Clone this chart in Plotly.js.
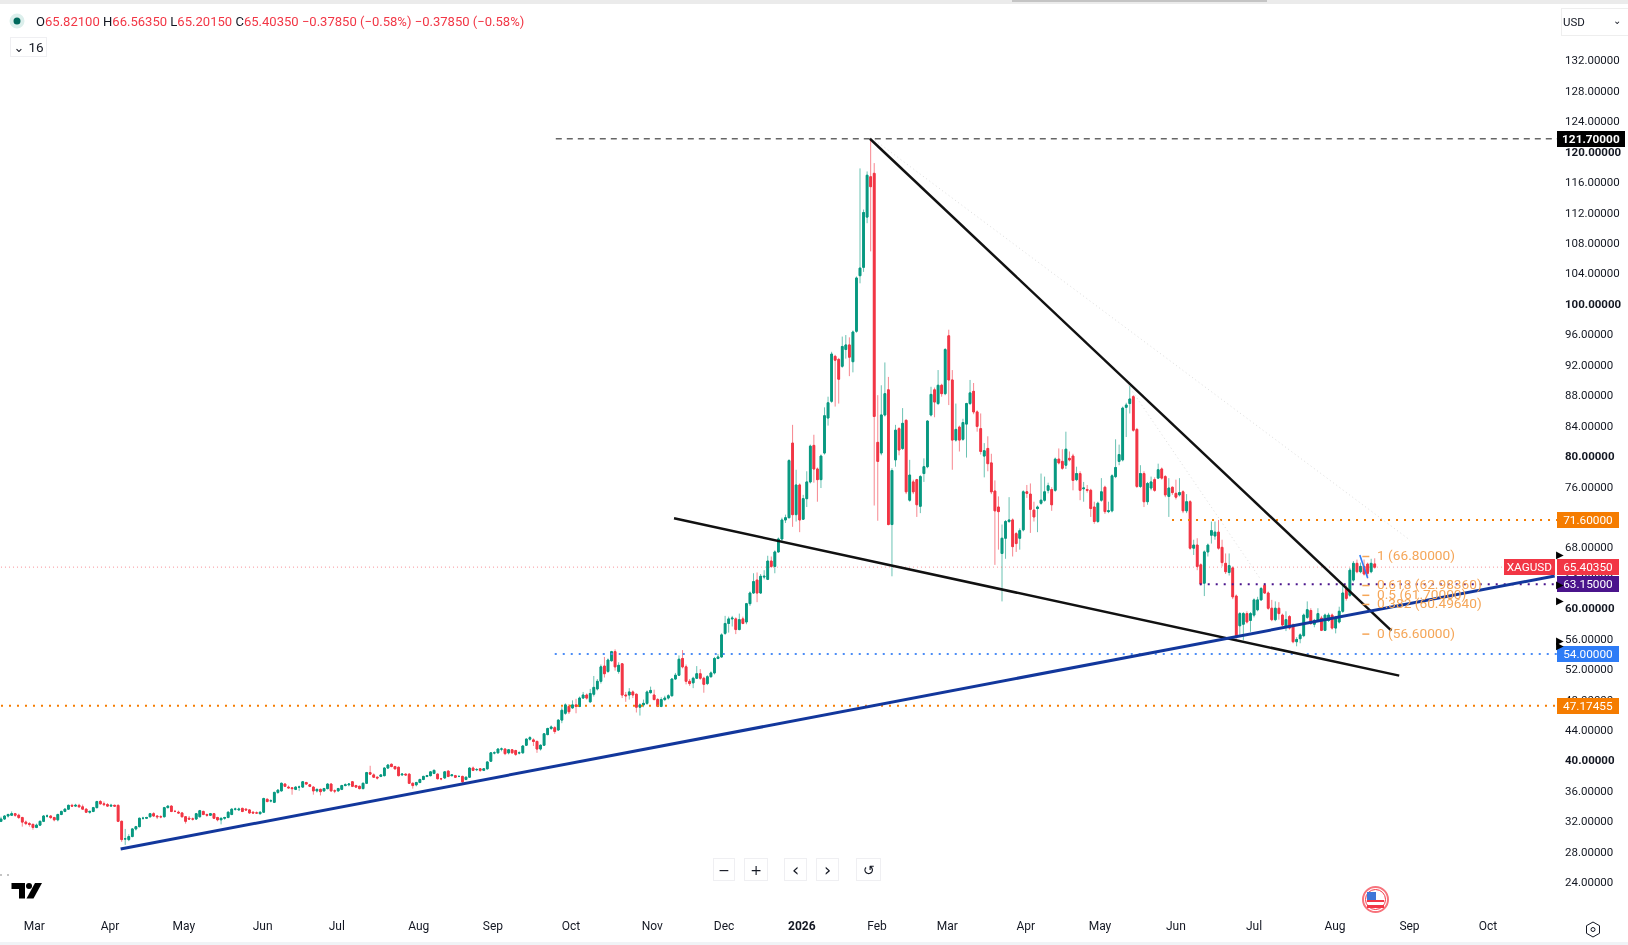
<!DOCTYPE html>
<html>
<head>
<meta charset="utf-8">
<script src="https://cdn.plot.ly/plotly-3.0.1.min.js"></script>
<style>html,body{margin:0;padding:0;background:#fff;overflow:hidden}#chart{width:1628px;height:945px;filter:blur(0.4px)}</style>
</head>
<body>
<div id="chart"></div>
<script>
// daily candles [open, high, low, close]
const barsA = [
[32.0,32.6,31.9,32.3],[32.3,32.8,32.2,32.7],[32.7,33.0,32.5,32.9],[32.8,33.3,32.7,33.0],[33.0,33.1,32.6,32.8],[32.8,33.0,32.3,32.5],[32.5,32.6,31.3,31.9],[31.9,32.1,31.5,31.7],[31.7,31.9,31.3,31.6],[31.6,31.7,30.9,31.2],
[31.2,31.7,31.1,31.5],[31.5,32.1,31.4,32.0],[32.0,32.8,31.9,32.7],[32.7,32.9,32.5,32.7],[32.7,32.8,32.3,32.5],[32.5,32.6,32.0,32.2],[32.2,33.0,32.0,32.9],[32.9,33.4,32.8,33.3],[33.3,33.7,33.2,33.6],[33.6,34.2,33.5,34.1],
[34.1,34.3,33.9,34.0],[34.0,34.3,33.9,34.1],[34.1,34.3,33.8,33.9],[33.9,34.2,33.6,33.6],[33.6,33.7,33.1,33.2],[33.2,33.4,33.0,33.3],[33.3,33.9,33.2,33.8],[33.8,34.7,33.7,34.6],[34.6,34.8,34.2,34.3],[34.3,34.6,34.0,34.2],
[34.2,34.4,33.9,34.0],[34.0,34.3,33.9,34.1],[34.1,34.2,33.9,34.0],[34.1,34.2,31.9,32.0],[32.0,32.1,29.3,29.6],[29.7,31.0,28.9,29.7],[29.6,30.3,29.4,30.0],[30.0,31.1,29.9,31.0],[31.0,31.4,30.8,31.3],[31.3,32.5,31.2,32.4],
[32.4,32.6,32.2,32.4],[32.4,32.6,32.3,32.5],[32.6,33.1,32.5,33.0],[33.0,33.2,32.6,32.7],[32.7,32.8,32.3,32.6],[32.6,32.8,32.4,32.6],[32.6,33.9,32.5,33.8],[33.8,34.1,33.7,34.0],[34.0,34.1,33.2,33.3],[33.3,33.5,33.2,33.3],
[33.2,33.4,33.0,33.1],[33.1,33.2,32.5,32.6],[32.6,32.7,31.7,32.0],[32.4,32.7,32.2,32.3],[32.3,32.5,32.1,32.3],[32.3,33.1,32.2,33.0],[32.6,33.5,32.5,33.4],[33.3,33.4,32.8,32.9],[32.9,33.0,32.6,32.8],[32.8,33.1,32.7,33.0],
[33.0,33.1,32.3,32.4],[32.5,32.6,32.0,32.2],[32.2,32.5,31.6,32.4],[32.4,32.6,32.2,32.5],[32.5,33.3,32.4,33.2],[32.9,33.7,32.8,33.6],[33.6,33.8,33.4,33.6],[33.5,33.8,33.4,33.6],[33.7,33.8,33.2,33.3],[33.6,33.7,33.4,33.5],
[33.5,33.6,33.0,33.1],[33.2,33.3,33.0,33.1],[33.1,33.3,33.0,33.1],[33.0,33.3,32.9,33.2],[33.2,35.1,33.1,35.0],[34.9,35.0,34.5,34.6],[34.7,34.9,34.5,34.7],[34.5,35.9,34.4,35.8],[35.8,36.2,35.6,36.1],[36.0,37.1,35.9,37.0],
[36.9,37.0,36.5,36.6],[36.5,36.7,36.3,36.4],[36.4,36.5,35.5,36.3],[36.2,36.6,36.1,36.5],[36.5,36.7,36.0,36.5],[36.5,37.3,36.4,37.2],[37.1,37.2,36.8,36.9],[36.8,36.9,36.5,36.6],[36.5,36.6,35.5,36.0],[36.0,36.3,35.8,36.2],
[36.2,36.3,35.4,35.9],[36.0,36.4,35.9,36.3],[36.3,37.0,36.2,36.9],[36.9,37.0,35.9,36.0],[36.0,36.2,35.7,36.0],[36.0,36.4,35.9,36.3],[36.2,36.8,36.1,36.7],[36.7,37.0,36.6,36.8],[36.8,37.0,36.6,36.9],[37.2,37.3,36.5,36.6],
[36.7,36.8,36.4,36.5],[36.6,36.7,36.2,36.3],[36.3,37.1,36.2,37.0],[37.0,38.5,36.9,38.4],[38.4,39.3,38.1,38.2],[38.1,38.3,37.7,37.8],[37.8,37.9,37.5,37.7],[37.9,38.2,37.8,38.1],[38.0,39.1,37.9,39.0],[39.0,39.5,38.9,39.4],
[39.5,39.6,39.1,39.2],[39.2,39.3,38.8,38.9],[39.1,39.2,37.9,38.0],[38.1,38.3,38.0,38.2],[38.2,38.3,38.0,38.1],[38.2,38.3,36.9,37.0],[37.0,37.1,36.3,36.7],[36.8,37.2,36.6,37.1],[37.1,37.6,37.0,37.5],[37.5,38.0,37.4,37.9],
[37.9,38.1,37.8,38.0],[38.0,38.6,37.9,38.5],[38.3,38.8,38.2,38.7],[38.2,38.3,37.5,37.6],[37.6,37.7,37.4,37.6],[37.7,38.6,37.6,38.5],[38.6,38.7,37.8,37.9],[38.0,38.2,37.9,38.1],[38.0,38.1,37.7,37.8],[37.9,38.0,37.8,37.9],
[37.9,38.0,36.9,37.2],[37.5,37.9,37.4,37.8],[37.8,39.1,37.7,39.0],[39.0,39.2,38.6,38.7],[38.8,39.0,38.6,38.8],[38.9,39.0,38.5,38.7],[38.7,39.0,38.6,38.9],[38.9,39.9,38.8,39.8],[39.9,41.1,39.8,41.0],[41.0,41.2,40.8,41.0],
[41.0,41.6,40.9,41.5],[41.5,41.7,41.2,41.5],[41.5,41.6,40.7,40.9],[41.0,41.5,40.8,41.4],[41.4,41.5,40.9,41.0],[41.3,41.4,40.6,40.8],[41.0,41.2,40.8,41.0],[41.0,42.0,40.9,41.9],[42.0,42.9,41.9,42.8],[42.8,43.2,42.6,43.0],
[42.7,42.9,41.9,42.5],[42.5,42.6,41.0,41.5],[41.5,42.1,41.3,42.0],[42.0,43.6,41.9,43.5],[43.4,44.3,43.3,44.2],[44.2,44.6,44.0,44.4],[44.3,44.5,43.5,43.8],[44.0,45.4,43.9,45.3]
];
const barsB = [
[45.3,47.0,44.9,46.6],[46.2,47.5,46.0,47.3],[47.1,47.4,46.1,46.4],[46.9,47.9,46.8,47.3],[47.3,48.1,46.2,47.1],[47.1,48.4,47.0,48.2],[48.2,49.0,48.1,48.6],[48.6,48.8,48.0,48.2],[47.7,49.4,47.6,48.8],[48.7,51.1,48.4,49.6],
[49.4,50.7,49.2,50.4],[50.4,52.6,50.1,52.3],[52.4,53.6,50.9,51.4],[51.7,53.4,51.5,53.2],[53.1,54.4,53.0,54.3],[54.3,54.6,51.8,52.3],[51.7,52.9,51.4,52.5],[52.7,52.8,48.2,48.6],[48.6,49.0,47.7,48.5],[48.6,49.5,48.0,49.0],
[49.0,49.2,48.2,48.6],[48.7,48.8,46.3,47.0],[47.0,47.5,45.9,47.3],[47.3,48.0,47.0,47.5],[47.5,49.2,47.3,49.0],[48.9,49.7,48.8,49.2],[48.6,49.3,47.9,48.0],[48.0,48.2,47.0,47.1],[47.1,48.3,47.0,48.0],[48.0,48.5,47.8,48.2],
[48.2,48.7,48.0,48.5],[48.5,50.8,48.4,50.7],[50.7,51.5,50.6,51.2],[51.2,53.8,51.1,53.3],[53.4,54.5,52.1,52.3],[52.3,52.6,50.0,50.4],[50.4,50.7,49.8,50.1],[50.2,51.0,49.5,50.8],[50.8,52.4,50.7,51.4],[51.4,52.0,50.6,50.8],
[50.8,51.0,48.9,50.0],[50.1,51.2,49.9,51.0],[51.0,51.7,50.9,51.5],[51.5,53.6,51.3,53.4],[53.4,54.0,53.3,53.6],[53.6,56.7,53.5,56.5],[56.7,59.0,56.5,58.0],[58.0,58.9,56.8,58.6],[58.6,59.0,57.6,58.7],[58.6,58.8,56.6,57.2],
[57.2,59.3,57.1,58.5],[58.6,58.9,57.9,58.0],[58.2,60.7,57.9,60.6],[60.6,62.2,60.3,62.0],[62.0,64.6,61.9,63.5],[63.7,64.7,60.8,62.0],[62.0,64.5,61.9,64.2],[64.1,65.0,63.8,64.2],[63.8,66.9,63.7,66.2],[66.2,66.8,65.3,65.5],
[65.5,67.6,64.6,67.4],[67.4,69.3,67.3,69.1],[69.1,71.9,68.8,71.6],[71.6,72.3,71.2,71.9],[71.9,79.6,71.8,79.4],[81.7,84.1,70.7,72.3],[72.3,78.2,71.4,76.2],[76.2,76.4,70.0,71.6],[71.7,74.9,71.6,74.4],[74.4,78.0,73.3,76.6],
[76.6,81.5,76.4,81.3],[81.4,82.8,76.5,78.3],[78.3,78.5,74.0,76.9],[76.9,80.2,75.8,80.0],[80.4,86.4,80.2,85.3]
];
const barsPeak = [
[85.0,87.8,84.0,87.0],[87.2,93.7,87.0,93.4],[93.1,93.3,86.5,92.6],[92.7,92.9,86.9,90.1],[91.8,95.7,91.6,94.4],[94.0,95.9,92.8,94.6],[94.6,95.6,90.5,93.0],[92.4,96.5,91.0,96.3],[96.4,103.6,96.2,103.4],[103.7,117.8,102.7,104.7],
[104.8,112.4,104.2,112.0],[111.4,117.4,110.6,116.9],[116.7,121.7,106.9,115.4],[117.15,118.5,73.5,85.2]
];
const barsC = [
[81.8,88,71.5,79.3],[80.4,89.3,80.1,85.4],[85.4,92.3,85.2,88.2],[88.7,90.4,70.9,71],[71,78.4,64.2,78.1],[79.5,84.1,78.6,83.4],[83.6,83.8,80.1,80.8],[81,86.3,80.8,84.3],[84.7,84.8,75,75.3],[74.2,79.5,74,77.5],
[76.6,76.9,75,75.3],[76.9,77,72,73.6],[73.4,77.5,72.5,77.3],[77.7,79.7,76.6,78.6],[78.6,84.7,78.4,84.6],[85.4,89.1,85.2,88.1],[88.7,89,85.1,87.1],[86.9,91.3,86.7,89.3],[89.3,89.5,87.8,88.2],[88.2,94.2,88,94],
[95.8,96.6,86.7,90],[90,91.3,78.2,82.1],[82.1,86.9,81.9,83.5],[83.8,84,80.6,82.1],[82.2,84.9,82,84.4],[84.2,87,79.8,86.9],[86.9,90,86.7,88.3],[88.5,89.6,85.5,85.8],[85.8,86,83.2,83.9],[83.6,85.6,80.2,80.6],
[80,81.7,77.2,80.7],[81,82.6,78,79],[79.1,80.3,75,75.3],[75.4,76.8,65.7,72.8],[73.3,74.7,67.7,72.7],[67.2,71,60.9,69.2],[69.2,71.6,66.5,71.4],[71.4,74.6,71.2,71.6],[71.6,71.8,66.8,68.1],[69.8,70,67.4,68.5],
[69.2,70.5,67.7,70.2],[70.3,75.5,70.1,75.3],[75.3,76.2,74.5,75.1],[75,76.4,69.9,73],[72.9,74,71.4,72],[73.1,73.5,70,73.3],[73.8,77.7,73.6,74.2],[74.2,77.3,74,75.3],[75.5,76.5,75.1,76.1],[75.6,75.9,72.8,73.6],
[75.5,79.8,75.3,79.6],[79.6,81,78.9,79.1],[79.3,80.9,78.2,78.4],[78.8,83.2,78.3,80.9],[79.7,80.6,79.3,79.5],[80,80.3,75.5,76.8],[76.9,78.6,76.7,77.7],[77.7,78,74.2,75.5],[75.7,76.6,74,75.8],[75.6,76.2,75.2,75.5],
[75.5,75.7,72,73.1],[73.3,74,71.1,71.4],[71.4,74,71.2,73.8],[74.2,77.1,74,75.3],[75.9,76.1,72.4,72.7],[72.7,74,72.5,72.8],[72.8,77.6,72.6,77.4],[77.3,82.2,77.1,78.5],[79.3,81.5,78.8,80.2],[79.5,86.5,79.3,86.3],
[86.4,87,82.5,86.7],[86.9,89.2,85.6,87.5],[87.8,88,83.2,83.4],[83.5,83.7,75.8,76]
];
const barsD = [
[76,78.8,75.8,77.7],[77.7,78,73.3,74],[74,76.6,73.6,76.4],[75.8,77.3,75.5,76.6],[76.9,77.2,75.3,75.5],[77.1,79,77,78.2],[78.3,78.5,76.9,77.1],[77.3,77.5,74.6,74.9],[74.7,77.1,72,75.8],[75.9,76,74.9,75.2],
[75.1,76.9,74.3,74.6],[74.9,77.1,74.7,75.2],[75.3,75.5,72.5,72.8],[72.8,75,72.5,74],[74,74.2,67.7,67.9],[67.9,69,67,68.3],[68.3,69.2,65,65.5],[65.7,65.9,63,63.2],[63.3,67.6,61.6,67.4],[67.4,68.5,66.8,68.3],
[69.6,71.4,68.5,70.2],[69.5,71.4,69,70],[70,71.6,67.7,67.9],[68,69,65.5,66],[65.9,67.2,64.5,64.8],[64.7,67.2,64.3,65.6],[65.3,65.5,61.2,61.5],[61.6,61.8,56,56.3],[57.7,59.5,56.5,59.3],[57.9,59.5,55.8,59.3],
[59.3,59.6,58,58.2],[58.4,59.5,56.9,59.3],[59.1,61.3,58.8,61.1],[59.8,61.5,59.6,61.1],[61.1,62.8,61,62.6],[63,63.3,61.9,62],[62,62.2,59.8,60],[60,61.1,58.3,58.5],[58.5,60.9,58.3,60],[60,60.8,58.5,59.3],
[59.1,59.3,57.6,57.8],[57.6,59.6,57,58.5],[58.9,59.1,57.2,57.4],[57.8,58,55.4,55.6],[55.6,56.2,55,55.9],[56,56.7,55.4,56.5],[56.4,59.3,56.2,59.1],[58.8,60.9,58.6,59.8],[59.7,60,57.8,58],[57.9,58.6,57.5,58.4],
[58.4,60,58.2,59.3],[58.7,59,57,57.1],[57.1,59.3,57,59.1],[58.4,59.4,58.2,59.1],[59.1,59.3,57.2,57.4],[57.4,59,56.7,58.7],[58.2,60.2,58,59.6],[59.6,63,59.4,62],[62.6,63,61,61.3],[61.7,65.3,61.5,65],
[63.7,66.2,63.5,65.9],[65.9,66.4,64.6,64.8],[64.8,66,64.6,65.5],[65.5,66.4,64.3,64.5],[65.8,66,63.9,64.6],[64.8,66.5,64.6,65.9],[65.821,66.5635,65.2015,65.4035]
];
const bars = [].concat(barsA, barsB, barsPeak, barsC, barsD);
const barIndex = bars.map((b, i) => i);
const opens = bars.map(b => b[0]);
const highs = bars.map(b => b[1]);
const lows = bars.map(b => b[2]);
const closes = bars.map(b => b[3]);

const priceTicks = [24,28,32,36,40,44,48,52,56,60,64,68,72,76,80,84,88,92,96,100,104,108,112,116,120,124,128,132];
const monthTickBars = [9.4,30.7,51.5,73.7,94.6,117.7,138.6,160.6,183.5,203.7,225.6,246.8,266.6,288.7,309.6,331,353,375.8,396.8,418.9];
const monthLabels = ['Mar','Apr','May','Jun','Jul','Aug','Sep','Oct','Nov','Dec','<b>2026</b>','Feb','Mar','Apr','May','Jun','Jul','Aug','Sep','Oct'];

// drawn trendlines: [bar, price]
const wedgeUpper = [[244.8,121.7],[391.7,57.05]];
const wedgeLower = [[189.6,71.82],[393.9,51.15]];
const supportLine = [[33.7,28.37],[437.7,64.24]];
const faintA = [[246.2,121.5],[396.9,68.97]];
const faintB = [[317.5,89.34],[354.6,63.98]];
const smallBlue = [[382.8,67],[385,63.98]];
const levels = [
  {v:121.7, from:156.3, to:438.6, c:'#666666', w:1.5, d:'6px,5px'},
  {v:71.6, from:329.9, to:438.6, c:'#f57c00', w:2, d:'2px,6px'},
  {v:65.4035, from:0, to:423.4, c:'rgba(242,54,69,0.55)', w:1, d:'1px,3px'},
  {v:63.15, from:337.7, to:438.6, c:'#4a148c', w:2, d:'2px,6px'},
  {v:54, from:156, to:438.6, c:'#4c8df6', w:2, d:'2px,6px'},
  {v:47.17455, from:0, to:438.6, c:'#f57c00', w:2, d:'2px,6px'}
];
const fibValues = [66.8,62.9836,61.7,60.4964,56.6];
const fibLabels = ['1 (66.80000)','0.618 (62.98360)','0.5 (61.70000)','0.382 (60.49640)','0 (56.60000)'];
const UP='#089981', DOWN='#f23645', FIB='#f5a658';

const W=1560, H=915;
const px=x=>x/W, py=y=>1-y/H;
const line2=(pts,color,width,dash)=>({type:'scatter',mode:'lines',x:pts.map(p=>p[0]),y:pts.map(p=>p[1]),line:{color:color,width:width,dash:dash||'solid'},hoverinfo:'skip',showlegend:false});

const traces=[];
levels.forEach(l=>traces.push(line2([[l.from,l.v],[l.to,l.v]],l.c,l.w,l.d)));
traces.push({type:'candlestick',x:barIndex,open:opens,high:highs,low:lows,close:closes,whiskerwidth:0,
  increasing:{line:{color:'rgba(8,153,129,0.6)',width:1},fillcolor:'rgba(8,153,129,0.6)'},
  decreasing:{line:{color:'rgba(242,54,69,0.6)',width:1},fillcolor:'rgba(242,54,69,0.6)'},hoverinfo:'skip',showlegend:false});
traces.push({type:'candlestick',x:barIndex,open:opens,close:closes,
  high:bars.map(b=>Math.max(b[0],b[3])),low:bars.map(b=>Math.min(b[0],b[3])),whiskerwidth:0,
  increasing:{line:{color:UP,width:1},fillcolor:UP},decreasing:{line:{color:DOWN,width:1},fillcolor:DOWN},hoverinfo:'skip',showlegend:false});
traces.push(line2(faintA,'#dddddd',1,'1px,3px'));
traces.push(line2(faintB,'#dddddd',1,'1px,3px'));
traces.push(line2(wedgeUpper,'#111111',2.5));
traces.push(line2(wedgeLower,'#111111',2.5));
traces.push(line2(supportLine,'#12379c',3));
traces.push(line2(smallBlue,'#2e7cf6',1.6));
traces.push({type:'scatter',mode:'markers',x:fibValues.map(()=>384.5),y:fibValues,marker:{symbol:'line-ew-open',size:5,color:FIB,line:{color:FIB,width:1.5}},hoverinfo:'skip',showlegend:false});

const ann=[];
const header='<span style="color:#131722">O</span>65.82100 <span style="color:#131722">H</span>66.56350 <span style="color:#131722">L</span>65.20150 <span style="color:#131722">C</span>65.40350 −0.37850 (−0.58%) −0.37850 (−0.58%)';
ann.push({xref:'paper',yref:'paper',x:px(33.5),y:py(21),xanchor:'left',yanchor:'middle',text:header,showarrow:false,font:{family:'Roboto',size:13.05,color:DOWN}});
const box=(x0,x1,y0,y1,text,size)=>ann.push({xref:'paper',yref:'paper',x:px((x0+x1)/2),y:py((y0+y1)/2),xanchor:'center',yanchor:'middle',width:x1-x0-2,height:y1-y0-2,text:text,showarrow:false,bgcolor:'#ffffff',bordercolor:'#efeff2',borderwidth:1,borderpad:0,font:{family:'DejaVu Sans',size:size,color:'#131722'}});
box(10,47,37,57,'⌄ <span style="font-family:Roboto;font-size:13.5px">16</span>',13);
box(713,735,858,881,'−',14);box(744,768,858,881,'+',14);box(784,807,858,881,'‹',18);box(816,839,858,881,'›',18);box(856,881,858,881,'↺',14);
ann.push({xref:'paper',yref:'paper',x:px(1561),y:py(21.5),xanchor:'left',yanchor:'middle',width:64,height:24,align:'left',text:'USD',showarrow:false,bgcolor:'#ffffff',bordercolor:'#eeeeee',borderwidth:1,font:{family:'Roboto',size:11.5,color:'#131722'}});
ann.push({xref:'paper',yref:'paper',x:px(1617),y:py(20),xanchor:'center',yanchor:'middle',text:'⌄',showarrow:false,font:{family:'DejaVu Sans',size:10,color:'#131722'}});
fibValues.forEach((v,i)=>ann.push({xref:'x',yref:'y',x:387.2,y:v,yshift:1.5,xanchor:'left',yanchor:'middle',text:fibLabels[i],showarrow:false,font:{family:'Roboto',size:13.7,color:FIB}}));
const tag=(v,text,bg,x0,x1,h)=>ann.push({xref:'paper',yref:'y',x:px((x0+x1)/2),y:v,xanchor:'center',yanchor:'middle',width:x1-x0,height:h,text:text,showarrow:false,bgcolor:bg,borderpad:0,borderwidth:0,font:{family:'Roboto',size:11.8,color:'#ffffff'}});
tag(121.7,'<b>121.70000</b>','#000000',1557,1625,16);
tag(71.6,'71.60000','#f57c00',1557,1619,16);
tag(65.4035,'65.40350','#f23645',1557,1619,16);
tag(65.4035,'XAGUSD','#f23645',1504,1555,16);
tag(63.15,'63.15000','#4a148c',1557,1619,16);
tag(54,'54.00000','#2e7cf6',1557,1619,16);
tag(47.17455,'47.17455','#f57c00',1557,1619,16);
[67,63.1,61,55.8,55.1].forEach(v=>ann.push({xref:'paper',yref:'y',x:px(1560),y:v,xanchor:'center',yanchor:'middle',text:'▶',showarrow:false,font:{family:'DejaVu Sans',size:10,color:'#000000'}}));

const shapes=[];
const rect=(x0,y0,x1,y1,fill,line)=>shapes.push({type:'rect',xref:'paper',yref:'paper',x0:px(x0),x1:px(x1),y0:py(y0),y1:py(y1),fillcolor:fill,line:line||{width:0},layer:'above'});
const poly=(pts,fill,line)=>shapes.push({type:'path',xref:'paper',yref:'paper',path:'M'+pts.map(p=>px(p[0])+','+py(p[1])).join('L')+'Z',fillcolor:fill,line:line||{width:0},layer:'above'});
const circ=(cx,cy,r,fill,line)=>shapes.push({type:'circle',xref:'paper',yref:'paper',x0:px(cx-r),x1:px(cx+r),y0:py(cy-r),y1:py(cy+r),fillcolor:fill,line:line||{width:0},layer:'above'});
rect(0,0,1628,4,'#ebebeb');
rect(1012,0,1267,2,'#c4c4c4');
rect(0,942,1628,945,'#f0f3f6');
circ(17,21,7.5,'#dcefec');circ(17,21,3.5,'#00695c');
// TradingView mark
poly([[11.5,883],[25,883],[25,898.5],[19,898.5],[19,889],[11.5,889]],'#000000');
circ(29,886,3,'#000000');
poly([[35,883],[42,883],[33.5,898.5],[26.5,898.5]],'#000000');
circ(1,875,0.8,'#777777');circ(8,875,0.8,'#777777');
// calendar flag
circ(1375.5,899.5,12.5,'#ffffff',{color:'#f7737c',width:2});
circ(1375.5,899.5,10,'#ffffff',{color:'#f23645',width:1});
rect(1367,905,1384,908,DOWN);rect(1367,900,1384,902,DOWN);
rect(1367,892,1376,900,'#3f77d8');
// settings
const hex=[[1593,922],[1599.5,925.7],[1599.5,933.3],[1593,937],[1586.5,933.3],[1586.5,925.7]];
poly(hex,'rgba(0,0,0,0)',{color:'#131722',width:1});
circ(1593,929.5,2,'rgba(0,0,0,0)',{color:'#131722',width:1});

const layout={
  width:1628,height:945,margin:{l:0,r:68,t:0,b:30,pad:0},
  paper_bgcolor:'#ffffff',plot_bgcolor:'#ffffff',showlegend:false,dragmode:false,
  xaxis:{type:'linear',range:[-0.28,439.2],rangeslider:{visible:false},showgrid:false,zeroline:false,showline:false,
    tickmode:'array',tickvals:monthTickBars,ticktext:monthLabels,ticks:'',ticklabelstandoff:2,tickangle:0,
    tickfont:{family:'Roboto',size:12,color:'#131722'},fixedrange:true},
  yaxis:{type:'linear',side:'right',range:[19.69,139.93],showgrid:false,zeroline:false,showline:false,
    tickmode:'array',tickvals:priceTicks,
    ticktext:priceTicks.map(v=>v%20===0?'<b>'+v.toFixed(5)+'</b>':v.toFixed(5)),
    ticks:'',ticklabelstandoff:4,tickfont:{family:'Roboto',size:11.5,color:'#131722'},fixedrange:true},
  annotations:ann,shapes:shapes
};
Plotly.newPlot('chart',traces,layout,{displayModeBar:false,staticPlot:true});
</script>
</body>
</html>
